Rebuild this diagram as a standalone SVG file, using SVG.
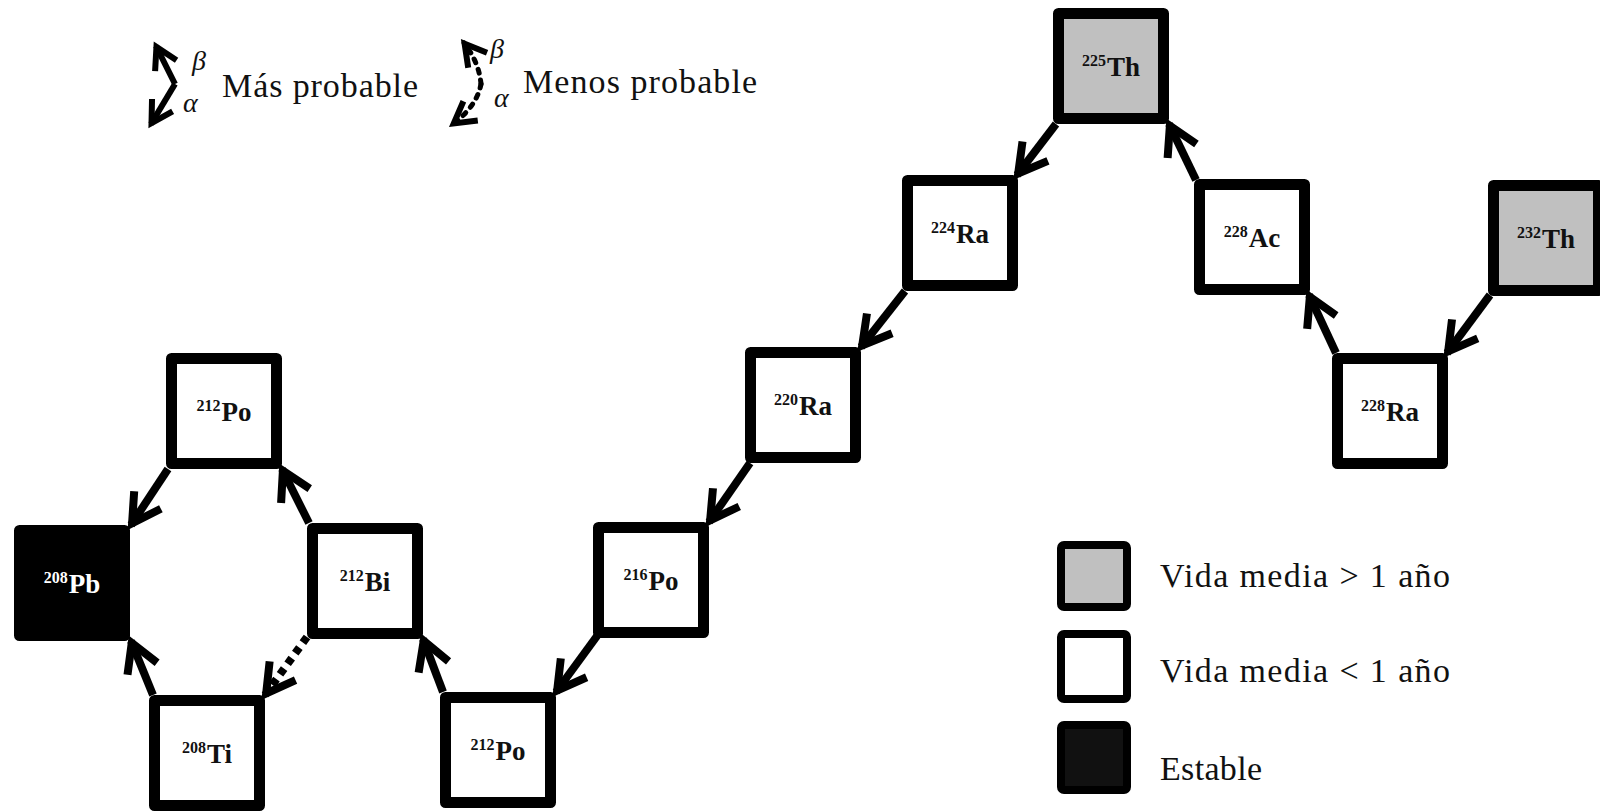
<svg xmlns="http://www.w3.org/2000/svg" width="1600" height="812" viewBox="0 0 1600 812">
<style>
.box{stroke:#000;stroke-width:11;stroke-linejoin:round}
.w{fill:#fff}.g{fill:#c0c0c0}.k{fill:#000}
.lbl{font-family:"Liberation Serif",serif;font-weight:bold;font-size:27px;text-anchor:middle;fill:#111}
.lblw{fill:#fff}
.sup{font-size:16px}
.con{stroke:#000;stroke-width:8;fill:none}
.dot{stroke-dasharray:7 6}
.leg{font-family:"Liberation Serif",serif;font-size:34px;fill:#111}
.greek{font-family:"Liberation Serif",serif;font-style:italic;font-size:28px;fill:#111}
.lbox{stroke:#000;stroke-width:8}
</style>
<defs>
<marker id="ah" viewBox="-40 -25 50 50" markerWidth="50" markerHeight="50" refX="0" refY="0" orient="auto" markerUnits="userSpaceOnUse" overflow="visible">
<path d="M -30 -16 L -2 0 L -30 16" fill="none" stroke="#000" stroke-width="8"/>
</marker>
<marker id="ahs" viewBox="-30 -20 40 40" markerWidth="40" markerHeight="40" refX="0" refY="0" orient="auto" markerUnits="userSpaceOnUse" overflow="visible">
<path d="M -22 -12 L -1 0 L -22 12" fill="none" stroke="#000" stroke-width="6"/>
</marker>
</defs>
<rect width="1600" height="812" fill="#fff"/>

<g id="legend-arrows">
<path class="con" style="stroke-width:6" d="M 175 84 L 156 46" marker-end="url(#ahs)"/>
<path class="con" style="stroke-width:6" d="M 175 84 L 151 124" marker-end="url(#ahs)"/>
<text class="greek" x="192" y="70">β</text>
<text class="greek" x="183" y="112">α</text>
<text class="leg" x="222" y="97" textLength="196">Más probable</text>
<path class="con" style="stroke-width:5;stroke-dasharray:4 7;stroke-linecap:round" d="M 481 84 Q 479 62 464 43" marker-end="url(#ahs)"/>
<path class="con" style="stroke-width:5;stroke-dasharray:4 7;stroke-linecap:round" d="M 481 84 Q 477 106 453 124" marker-end="url(#ahs)"/>
<text class="greek" x="490" y="58">β</text>
<text class="greek" x="494" y="107">α</text>
<text class="leg" x="523" y="93" textLength="234">Menos probable</text>
</g>

<g id="connectors">
<path class="con" d="M 1490 295 L 1447 353" marker-end="url(#ah)"/>
<path class="con" d="M 1336 353 L 1309 295" marker-end="url(#ah)"/>
<path class="con" d="M 1196 180 L 1169 124" marker-end="url(#ah)"/>
<path class="con" d="M 1056 124 L 1017 175" marker-end="url(#ah)"/>
<path class="con" d="M 905 291 L 861 347" marker-end="url(#ah)"/>
<path class="con" d="M 750 463 L 709 522" marker-end="url(#ah)"/>
<path class="con" d="M 597 636 L 556 692" marker-end="url(#ah)"/>
<path class="con" d="M 443 692 L 423 639" marker-end="url(#ah)"/>
<path class="con" d="M 309 523 L 282 469" marker-end="url(#ah)"/>
<path class="con" d="M 168 469 L 131 525" marker-end="url(#ah)"/>
<path class="con dot" d="M 307 637 L 265 695" marker-end="url(#ah)"/>
<path class="con" d="M 153 695 L 131 641" marker-end="url(#ah)"/>
</g>

<g id="n-th225"><rect class="box g" x="1058.5" y="13.5" width="105" height="105"/><text class="lbl" x="1111" y="76"><tspan class="sup" dy="-10">225</tspan><tspan dx="1" dy="10">Th</tspan></text></g>
<g id="n-ra224"><rect class="box w" x="907.5" y="180.5" width="105" height="105"/><text class="lbl" x="960" y="243"><tspan class="sup" dy="-10">224</tspan><tspan dx="1" dy="10">Ra</tspan></text></g>
<g id="n-ac228"><rect class="box w" x="1199.5" y="184.5" width="105" height="105"/><text class="lbl" x="1252" y="247"><tspan class="sup" dy="-10">228</tspan><tspan dx="1" dy="10">Ac</tspan></text></g>
<g id="n-th232"><rect class="box g" x="1493.5" y="185.5" width="105" height="105"/><text class="lbl" x="1546" y="248"><tspan class="sup" dy="-10">232</tspan><tspan dx="1" dy="10">Th</tspan></text></g>
<g id="n-ra228"><rect class="box w" x="1337.5" y="358.5" width="105" height="105"/><text class="lbl" x="1390" y="421"><tspan class="sup" dy="-10">228</tspan><tspan dx="1" dy="10">Ra</tspan></text></g>
<g id="n-ra220"><rect class="box w" x="750.5" y="352.5" width="105" height="105"/><text class="lbl" x="803" y="415"><tspan class="sup" dy="-10">220</tspan><tspan dx="1" dy="10">Ra</tspan></text></g>
<g id="n-po216"><rect class="box w" x="598.5" y="527.5" width="105" height="105"/><text class="lbl" x="651" y="590"><tspan class="sup" dy="-10">216</tspan><tspan dx="1" dy="10">Po</tspan></text></g>
<g id="n-po212b"><rect class="box w" x="445.5" y="697.5" width="105" height="105"/><text class="lbl" x="498" y="760"><tspan class="sup" dy="-10">212</tspan><tspan dx="1" dy="10">Po</tspan></text></g>
<g id="n-bi212"><rect class="box w" x="312.5" y="528.5" width="105" height="105"/><text class="lbl" x="365" y="591"><tspan class="sup" dy="-10">212</tspan><tspan dx="1" dy="10">Bi</tspan></text></g>
<g id="n-po212a"><rect class="box w" x="171.5" y="358.5" width="105" height="105"/><text class="lbl" x="224" y="421"><tspan class="sup" dy="-10">212</tspan><tspan dx="1" dy="10">Po</tspan></text></g>
<g id="n-pb208"><rect class="box k" x="19.5" y="530.5" width="105" height="105"/><text class="lbl lblw" x="72" y="593"><tspan class="sup" dy="-10">208</tspan><tspan dx="1" dy="10">Pb</tspan></text></g>
<g id="n-ti208"><rect class="box w" x="154.5" y="700.5" width="105" height="105"/><text class="lbl" x="207" y="763"><tspan class="sup" dy="-10">208</tspan><tspan dx="1" dy="10">Ti</tspan></text></g>

<g id="legend-key">
<rect class="lbox" x="1061" y="545" width="66" height="62" rx="3" fill="#c0c0c0"/>
<text class="leg" x="1160" y="587" textLength="290">Vida media &gt; 1 año</text>
<rect class="lbox" x="1061" y="634" width="66" height="65" rx="3" fill="#fff"/>
<text class="leg" x="1160" y="682" textLength="290">Vida media &lt; 1 año</text>
<rect class="lbox" x="1061" y="725" width="66" height="65" rx="3" fill="#111"/>
<text class="leg" x="1160" y="780" textLength="102">Estable</text>
</g>
</svg>
